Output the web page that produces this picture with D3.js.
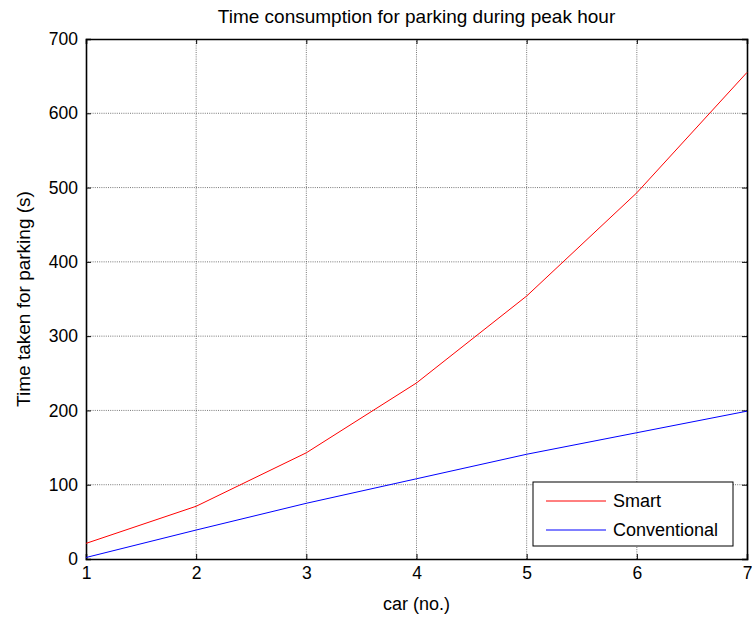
<!DOCTYPE html>
<html>
<head>
<meta charset="utf-8">
<script src="https://cdn.jsdelivr.net/npm/d3@7"></script>
<style>
  body { margin: 0; background: #fff; }
  svg { display: block; font-family: "Liberation Sans", Arial, sans-serif; }
</style>
</head>
<body>
<svg id="chart"></svg>
<script>
'use strict';

var cars = [1, 2, 3, 4, 5, 6, 7];
var smart = [21, 71, 143, 237, 354, 493, 655];
var conventional = [2, 39, 75, 108, 141, 170, 199];
var yTicks = [0, 100, 200, 300, 400, 500, 600, 700];
var seriesNames = ["Smart", "Conventional"];
var seriesColors = ["#ff0000", "#0000ff"];

function draw() {
    var width = 752,
        height = 617,
        margin = {top: 39, right: 5, bottom: 58, left: 86};

    var svg = d3.select("#chart")
                .attr("width", width)
                .attr("height", height);

    var x = d3.scaleLinear()
              .domain([1, 7])
              .range([margin.left, width - margin.right]);

    var y = d3.scaleLinear()
              .domain([0, 700])
              .range([height - margin.bottom, margin.top]);

    // grid
    var grid = svg.append("g").attr("stroke", "#555").attr("stroke-width", 0.8)
                  .attr("stroke-dasharray", "1,1.2");
    grid.selectAll(".vg").data(cars.slice(1, -1)).enter().append("line")
        .attr("x1", function(d) { return x(d); }).attr("x2", function(d) { return x(d); })
        .attr("y1", y(0)).attr("y2", y(700));
    grid.selectAll(".hg").data(yTicks.slice(1, -1)).enter().append("line")
        .attr("y1", function(d) { return y(d); }).attr("y2", function(d) { return y(d); })
        .attr("x1", x(1)).attr("x2", x(7));

    // axes, ticks pointing inward like matlab
    var xAxis = svg.append("g")
        .attr("transform", "translate(0," + y(0) + ")")
        .call(d3.axisBottom(x).tickValues(cars).tickSize(-5).tickPadding(8).tickFormat(d3.format("d")));
    var xTop = svg.append("g")
        .attr("transform", "translate(0," + y(700) + ")")
        .call(d3.axisTop(x).tickValues(cars).tickSize(-5).tickFormat(""));
    var yAxis = svg.append("g")
        .attr("transform", "translate(" + x(1) + ",0)")
        .call(d3.axisLeft(y).tickValues(yTicks).tickSize(-5).tickPadding(8));
    var yRight = svg.append("g")
        .attr("transform", "translate(" + x(7) + ",0)")
        .call(d3.axisRight(y).tickValues(yTicks).tickSize(-5).tickFormat(""));

    [xAxis, xTop, yAxis, yRight].forEach(function(a) {
        a.selectAll(".domain").attr("stroke", "#000").attr("stroke-width", 1.6);
        a.selectAll(".tick line").attr("stroke", "#000");
        a.selectAll("text").attr("font-size", 17.5).attr("fill", "#000")
            .attr("font-family", "'Liberation Sans', Arial, sans-serif");
    });

    // lines
    var line = d3.line()
                 .x(function(d, i) { return x(cars[i]); })
                 .y(function(d) { return y(d); });

    [smart, conventional].forEach(function(s, i) {
        svg.append("path")
           .datum(s)
           .attr("fill", "none")
           .attr("stroke", seriesColors[i])
           .attr("stroke-width", 1)
           .attr("d", line);
    });

    // title and labels
    svg.append("text")
       .attr("x", (x(1) + x(7)) / 2).attr("y", 23)
       .attr("text-anchor", "middle").attr("font-size", 19)
       .text("Time consumption for parking during peak hour");

    svg.append("text")
       .attr("x", (x(1) + x(7)) / 2).attr("y", 610)
       .attr("text-anchor", "middle").attr("font-size", 18)
       .text("car (no.)");

    svg.append("text")
       .attr("transform", "translate(30," + (y(0) + y(700)) / 2 + ") rotate(-90)")
       .attr("text-anchor", "middle").attr("font-size", 19)
       .text("Time taken for parking (s)");

    // legend
    var legend = svg.append("g").attr("transform", "translate(533,482)");
    legend.append("rect")
          .attr("width", 200).attr("height", 64)
          .attr("fill", "#fff").attr("stroke", "#000").attr("stroke-width", 1);

    seriesNames.forEach(function(name, i) {
        var row = legend.append("g").attr("transform", "translate(0," + (19 + i * 29) + ")");
        row.append("line")
           .attr("x1", 13).attr("x2", 73)
           .attr("stroke", seriesColors[i]).attr("stroke-width", 1);
        row.append("text")
           .attr("x", 80).attr("dy", "0.35em")
           .attr("font-size", 18)
           .text(name);
    });
}

draw();
</script>
</body>
</html>
